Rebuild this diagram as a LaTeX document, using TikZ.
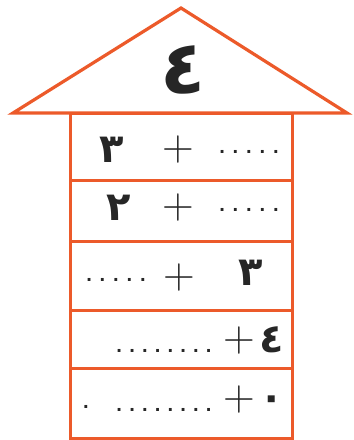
\documentclass[tikz,border=0pt]{standalone}
\usepackage{fontspec}
\newfontfamily\arabicfont[Script=Arabic]{DejaVu Sans}
\usetikzlibrary{positioning}
\definecolor{houseorange}{RGB}{236,90,42}
\newcommand{\blankdots}[2][7.4pt]{.\foreach \k in {2,...,#2}{\kern#1.}}

\begin{document}
\begin{tikzpicture}[
    x=1pt,
    y=-1pt,
    roof/.style={
        draw=houseorange,
        line width=3.2pt,
        line join=miter
    },
    rowbox/.style={
        draw=houseorange,
        line width=3pt,
        minimum width=222pt,
        inner sep=0pt,
        outer sep=0pt
    },
    digit/.style={
        font=\arabicfont\bfseries\fontsize{40}{40}\selectfont,
        text=black!85,
        inner sep=0pt
    },
    plus/.style={
        font=\fontsize{44}{44}\selectfont,
        text=black!85,
        inner sep=0pt
    },
    blanks/.style={
        font=\arabicfont\bfseries\fontsize{16}{16}\selectfont,
        text=black!85,
        inner sep=0pt
    }
]

\useasboundingbox (0,0) rectangle (354,440);

%------------------------------------------------
% Roof
%------------------------------------------------

\coordinate (apex) at (181,8);
\coordinate (eaveL) at (13,113);
\coordinate (eaveR) at (347,113);

\draw[roof] (eaveL) -- (apex) -- (eaveR) -- cycle;

\node[digit,font=\arabicfont\bfseries\fontsize{74}{74}\selectfont] (top) at (183,70) {٤};

%------------------------------------------------
% Rows
%------------------------------------------------

\node[rowbox,minimum height=67pt] (row1) at (181,146.5) {};

\foreach \prev/\name/\h in {
row1/row2/61.5,
row2/row3/68.5,
row3/row4/58.5,
row4/row5/69.5}
{
\node[rowbox,minimum height=\h pt,below=0pt of \prev] (\name) {};
}

%------------------------------------------------
% Sums
%------------------------------------------------

\node[digit] (d1) at (112,150) {٣};
\node[plus] (p1) at (178,150) {+};
\node[blanks] (b1) at (249,152) {\blankdots{5}};

\node[digit] (d2) at (119,208) {٢};
\node[plus] (p2) at (178,208) {+};
\node[blanks] (b2) at (249,210) {\blankdots{5}};

\node[blanks] (b3) at (116,280) {\blankdots{5}};
\node[plus] (p3) at (179,278) {+};
\node[digit] (d3) at (251,273) {٣};

\node[blanks] (b4) at (164,351) {\blankdots[6.7pt]{8}};
\node[plus] (p4) at (239,341) {+};
\node[digit] (d4) at (272,340) {٤};

\node[blanks] (b5a) at (86,407) {.};
\node[blanks] (b5) at (164,410) {\blankdots[6.7pt]{8}};
\node[plus] (p5) at (239,400) {+};
\node[digit] (d5) at (272,403) {٠};

\end{tikzpicture}
\end{document}
